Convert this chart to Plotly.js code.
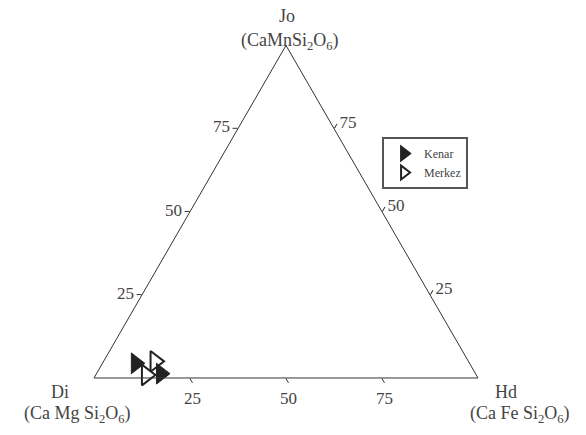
<!DOCTYPE html>
<html><head><meta charset="utf-8">
<script src="https://cdn.plot.ly/plotly-3.0.1.min.js"></script>
<style>html,body{margin:0;padding:0;background:#fff}#chart{width:586px;height:435px}</style>
</head><body><div id="chart"></div>
<script>
// Data (percent): Jo = CaMnSi2O6, Di = CaMgSi2O6, Hd = CaFeSi2O6
const seriesNames = ['Kenar', 'Merkez'];
const kenarJo = [4.4, 1.3];
const kenarDi = [86.9, 81.9];
const kenarHd = [8.7, 16.8];
const merkezJo = [5.0, 0.9];
const merkezDi = [81.6, 85.9];
const merkezHd = [13.4, 13.2];
const tickVals = [25, 50, 75];
const tickTextAsc = ['25', '50', '75'];
const tickTextDesc = ['75', '50', '25'];

const serif = 'Liberation Serif';
const textColor = '#444';

const merkez = {
  type: 'scatterternary', mode: 'markers', name: seriesNames[1],
  a: merkezJo, b: merkezDi, c: merkezHd,
  marker: {symbol: 'triangle-right', size: 18, color: '#fff', line: {color: '#222', width: 2}},
  cliponaxis: false
};
const kenar = {
  type: 'scatterternary', mode: 'markers', name: seriesNames[0],
  a: kenarJo, b: kenarDi, c: kenarHd,
  marker: {symbol: 'triangle-right', size: 18, color: '#222', line: {color: '#222', width: 1}},
  cliponaxis: false
};

function axis(ticktext) {
  return {
    title: {text: ''}, min: 0,
    tickmode: 'array', tickvals: tickVals, ticktext: ticktext,
    ticks: 'outside', ticklen: 5, tickwidth: 1, tickcolor: '#333',
    showline: true, linecolor: '#333', linewidth: 1,
    showgrid: false,
    tickfont: {family: serif, size: 17, color: textColor}
  };
}

const ann = (text, x, y, size) => ({
  text: text, x: x, y: y, xref: 'paper', yref: 'paper',
  xanchor: 'center', yanchor: 'middle', showarrow: false,
  font: {family: serif, size: size, color: textColor}
});

const layout = {
  width: 586, height: 435,
  margin: {l: 0, r: 0, t: 0, b: 0},
  paper_bgcolor: '#fff',
  font: {family: serif, size: 17, color: textColor},
  showlegend: true,
  ternary: {
    sum: 100,
    domain: {x: [0.1604, 0.8157], y: [0.131, 0.8957]},
    bgcolor: '#fff',
    aaxis: axis(tickTextAsc),
    baxis: axis(tickTextDesc),
    caxis: axis(tickTextDesc)
  },
  legend: {
    x: 0.652, y: 0.685, xanchor: 'left', yanchor: 'top',
    bgcolor: '#fff', bordercolor: '#555', borderwidth: 2,
    traceorder: 'reversed', itemsizing: 'constant',
    font: {family: serif, size: 12, color: textColor},
    itemwidth: 30, tracegroupgap: 0
  },
  annotations: [
    ann('Jo', 287/586, 1 - 16/435, 18),
    ann('(CaMnSi<sub>2</sub>O<sub>6</sub>)', 290/586, 1 - 41/435, 18),
    ann('Di', 60/586, 1 - 392/435, 18),
    ann('(Ca Mg Si<sub>2</sub>O<sub>6</sub>)', 77/586, 1 - 414/435, 18),
    ann('Hd', 506/586, 1 - 392/435, 18),
    ann('(Ca Fe Si<sub>2</sub>O<sub>6</sub>)', 520/586, 1 - 414/435, 18)
  ]
};

Plotly.newPlot('chart', [merkez, kenar], layout, {displayModeBar: false, staticPlot: true});
</script>
</body></html>
